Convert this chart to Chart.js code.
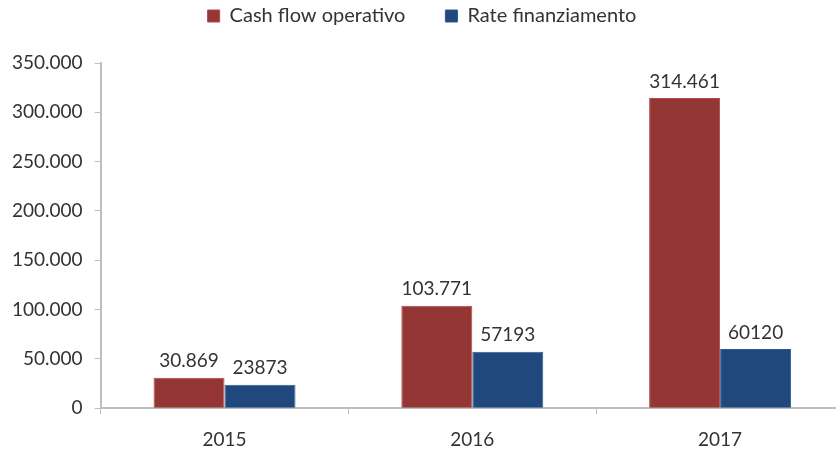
<!DOCTYPE html>
<html>
<head>
<meta charset="utf-8">
<script src="https://cdn.jsdelivr.net/npm/chart.js@4"></script>
<style>
  html, body { margin: 0; padding: 0; background: #fff; overflow: hidden; }
  #wrap { width: 852px; height: 449px; }
</style>
</head>
<body>
<div id="wrap"><canvas id="cashChart"></canvas></div>
<script>
// ===== Data =====
const years = ['2015', '2016', '2017'];
const cashFlow = [30869, 103771, 314461];
const rateFin = [23873, 57193, 60120];
const yTicks = [0, 50000, 100000, 150000, 200000, 250000, 300000, 350000];

const FONT = 'Lato';

function itNum(v) {
    return String(v).replace(/\B(?=(\d{3})+(?!\d))/g, '.');
}

// draw values above the bars
const barLabels = {
    id: 'barLabels',
    afterDatasetsDraw(chart) {
        const ctx = chart.ctx;
        ctx.save();
        ctx.font = '19px ' + FONT;
        ctx.fillStyle = '#333';
        ctx.textAlign = 'center';
        ctx.textBaseline = 'bottom';
        chart.data.datasets.forEach((ds, i) => {
            chart.getDatasetMeta(i).data.forEach((bar, j) => {
                const txt = i === 0 ? itNum(ds.data[j]) : String(ds.data[j]);
                ctx.fillText(txt, bar.x, bar.y - 7);
            });
        });
        ctx.restore();
    }
};

// extra room under the legend
const legendGap = {
    id: 'legendGap',
    beforeInit(chart) {
        const fit = chart.legend.fit;
        chart.legend.fit = function () {
            fit.bind(chart.legend)();
            this.height += 27;
        };
    }
};

const ctx = document.getElementById('cashChart').getContext('2d');
new Chart(ctx, {
    type: 'bar',
    data: {
        labels: years,
        datasets: [
            {
                label: 'Cash flow operativo',
                data: cashFlow,
                backgroundColor: '#943634',
                borderColor: '#b04a47',
                borderWidth: 1,
                barPercentage: 1,
                categoryPercentage: 0.573
            },
            {
                label: 'Rate finanziamento',
                data: rateFin,
                backgroundColor: '#1f497d',
                borderColor: '#2f5a90',
                borderWidth: 1,
                barPercentage: 1,
                categoryPercentage: 0.573
            }
        ]
    },
    options: {
        responsive: true,
        maintainAspectRatio: false,
        animation: false,
        layout: { padding: { top: -34, right: 8, left: 0, bottom: -16 } },
        plugins: {
            legend: {
                position: 'top',
                labels: {
                    boxWidth: 12,
                    boxHeight: 12,
                    padding: 40,
                    color: '#333',
                    font: { family: FONT, size: 20 }
                }
            },
            tooltip: { enabled: false }
        },
        scales: {
            x: {
                offset: true,
                grid: {
                    offset: true,
                    drawOnChartArea: false,
                    drawTicks: true,
                    tickLength: 6,
                    color: '#bfbfbf'
                },
                border: { color: '#bfbfbf', width: 2 },
                ticks: { color: '#333', font: { family: FONT, size: 19 }, padding: 14 }
            },
            y: {
                min: 0,
                max: 350000,
                afterBuildTicks(axis) { axis.ticks = yTicks.map(v => ({ value: v })); },
                grid: {
                    drawOnChartArea: false,
                    drawTicks: true,
                    tickLength: 6,
                    color: '#bfbfbf'
                },
                border: { color: '#bfbfbf', width: 2 },
                ticks: {
                    color: '#333',
                    font: { family: FONT, size: 19 },
                    padding: 12,
                    callback: v => itNum(v)
                }
            }
        }
    },
    plugins: [barLabels, legendGap]
});
</script>
</body>
</html>
